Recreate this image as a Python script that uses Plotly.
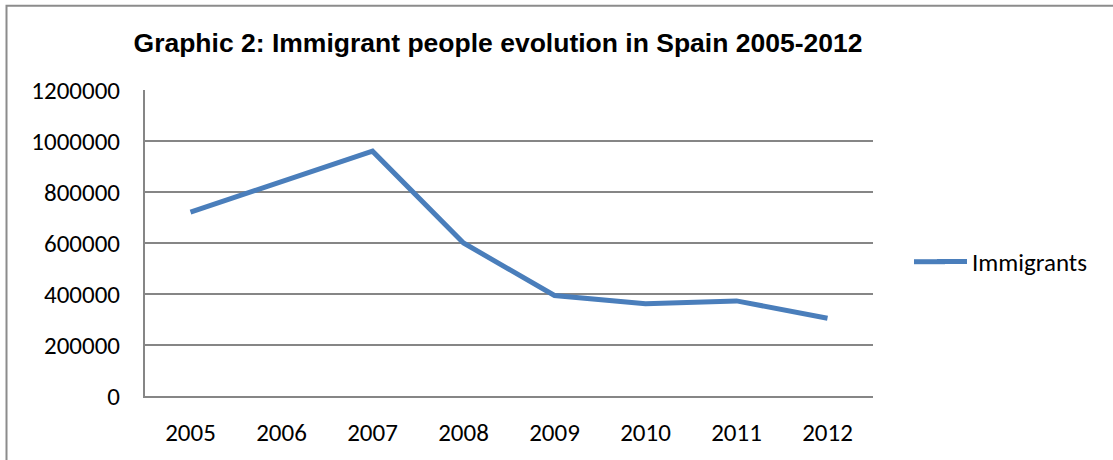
import plotly.graph_objects as go

years = ["2005", "2006", "2007", "2008", "2009", "2010", "2011", "2012"]
immigrants = [721000, 840000, 960000, 600000, 394000, 362000, 373000, 305000]
y_ticks = [0, 200000, 400000, 600000, 800000, 1000000, 1200000]

W, H = 1113, 460
L, R, T, B = 145, 240, 90, 63.5
pw, ph = W - L - R, H - T - B

def px_x(x):
    return (x - L) / pw

def px_y(y):
    return (H - B - y) / ph

tick_font = dict(family="Calibri, Carlito, Lato, sans-serif", size=25, color="#000000")
line_color = "#4A7EBB"

fig = go.Figure()
fig.add_trace(go.Scatter(
    x=years, y=immigrants, mode="lines", name="Immigrants",
    line=dict(color=line_color, width=5),
))

fig.update_layout(
    width=W, height=H,
    margin=dict(l=L, r=R, t=T, b=B, autoexpand=False),
    paper_bgcolor="white", plot_bgcolor="white",
    title=dict(
        text="<b>Graphic 2: Immigrant people evolution in Spain 2005-2012</b>",
        x=498 / W, xref="container", xanchor="center",
        y=1 - 43 / H, yref="container", yanchor="middle",
        font=dict(family="Liberation Sans, Arial, sans-serif", size=26.5, color="#000000"),
    ),
    showlegend=True,
    legend=dict(
        x=px_x(932), xanchor="left", y=px_y(262), yanchor="middle",
        font=tick_font, bgcolor="rgba(0,0,0,0)",
    ),
    xaxis=dict(
        type="category", range=[-0.5, 7.5], automargin=False,
        showgrid=False, showline=True, linecolor="#868686", linewidth=2,
        ticks="", tickfont=tick_font, ticklabelstandoff=13,
        zeroline=False,
    ),
    yaxis=dict(
        range=[0, 1200000], tickvals=y_ticks, ticktext=[str(v) for v in y_ticks],
        automargin=False,
        showgrid=True, gridcolor="#868686", gridwidth=1.5,
        showline=True, linecolor="#868686", linewidth=2,
        ticks="", tickfont=tick_font, ticklabelstandoff=18,
        zeroline=False,
    ),
    shapes=[
        dict(
            type="rect", xref="paper", yref="paper",
            x0=px_x(6.5), x1=px_x(1300), y0=px_y(600), y1=px_y(5.5),
            line=dict(color="#8C8C8C", width=2), fillcolor="rgba(0,0,0,0)", layer="below",
        ),
        dict(
            type="line", xref="paper", yref="paper",
            x0=px_x(914), x1=px_x(945), y0=px_y(262), y1=px_y(262),
            line=dict(color=line_color, width=5),
        ),
    ],
)

fig.write_html("out.html", config={"displayModeBar": False},
               post_script="document.body.style.margin='0';")
